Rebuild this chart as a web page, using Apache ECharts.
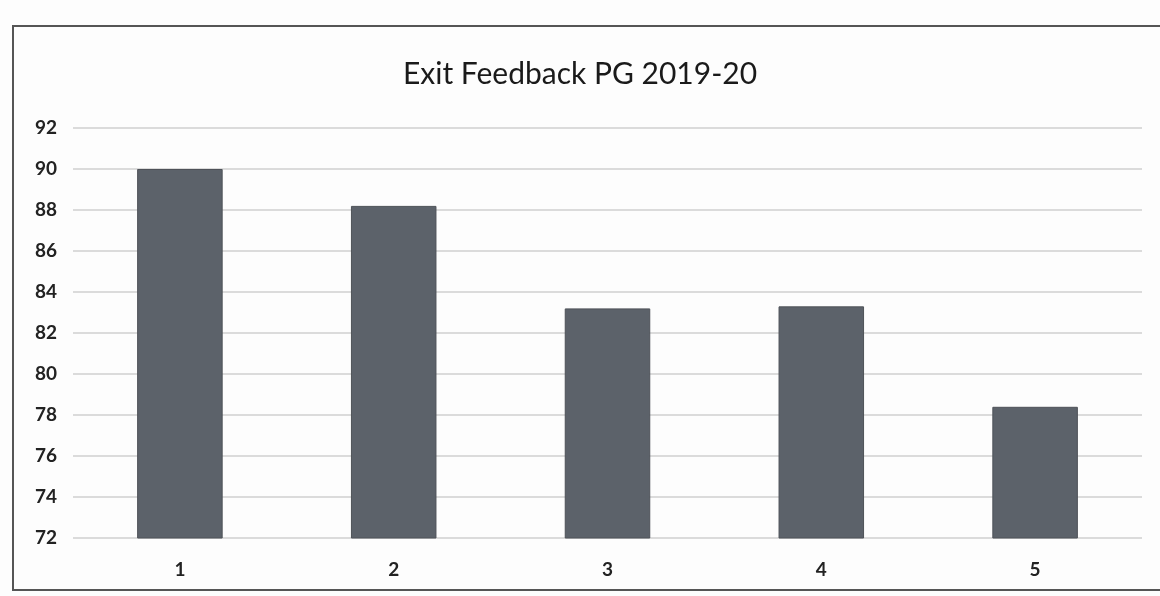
<!DOCTYPE html>
<html>
<head>
<meta charset="utf-8">
<script src="https://cdn.jsdelivr.net/npm/echarts@6/dist/echarts.min.js"></script>
<style>
html,body{margin:0;padding:0;background:#fdfdfd;}
#c{width:1160px;height:596px;}
</style>
</head>
<body>
<div id="c"></div>
<script>
const categories = ['1', '2', '3', '4', '5'];
const values = [90.0, 88.2, 83.2, 83.3, 78.4];
const yTicks = { min: 72, max: 92, interval: 2 };
const titleText = 'Exit Feedback PG 2019-20';

const chart = echarts.init(document.getElementById('c'), null, { renderer: 'canvas' });
chart.setOption({
  backgroundColor: '#fdfdfd',
  animation: false,
  title: {
    text: titleText,
    left: 'center',
    top: 54,
    textStyle: { fontFamily: 'Lato, "Open Sans", sans-serif', fontSize: 30, fontWeight: 'normal', color: '#1a1a1a' }
  },
  grid: { left: 73, right: 18, top: 128, bottom: 58 },
  xAxis: {
    type: 'category',
    data: categories,
    axisLine: { show: false },
    axisTick: { show: false },
    axisLabel: { margin: 22, fontSize: 19, fontWeight: 'bold', color: '#222', fontFamily: 'Lato, "Open Sans", sans-serif' }
  },
  yAxis: {
    type: 'value',
    min: yTicks.min,
    max: yTicks.max,
    interval: yTicks.interval,
    axisLine: { show: false },
    axisTick: { show: false },
    axisLabel: { margin: 16, fontSize: 19, fontWeight: 'bold', color: '#222', fontFamily: 'Lato, "Open Sans", sans-serif' },
    splitLine: { lineStyle: { color: '#cfcfcf', width: 1.5 } }
  },
  series: [{
    type: 'bar',
    data: values,
    barWidth: '40%',
    itemStyle: { color: '#5c626a', borderColor: '#4e5258', borderWidth: 1 }
  }],
  graphic: [{
    type: 'rect',
    shape: { x: 13, y: 26, width: 1150, height: 564 },
    style: { fill: 'none', stroke: '#555', lineWidth: 2 },
    silent: true
  }]
});
</script>
</body>
</html>
